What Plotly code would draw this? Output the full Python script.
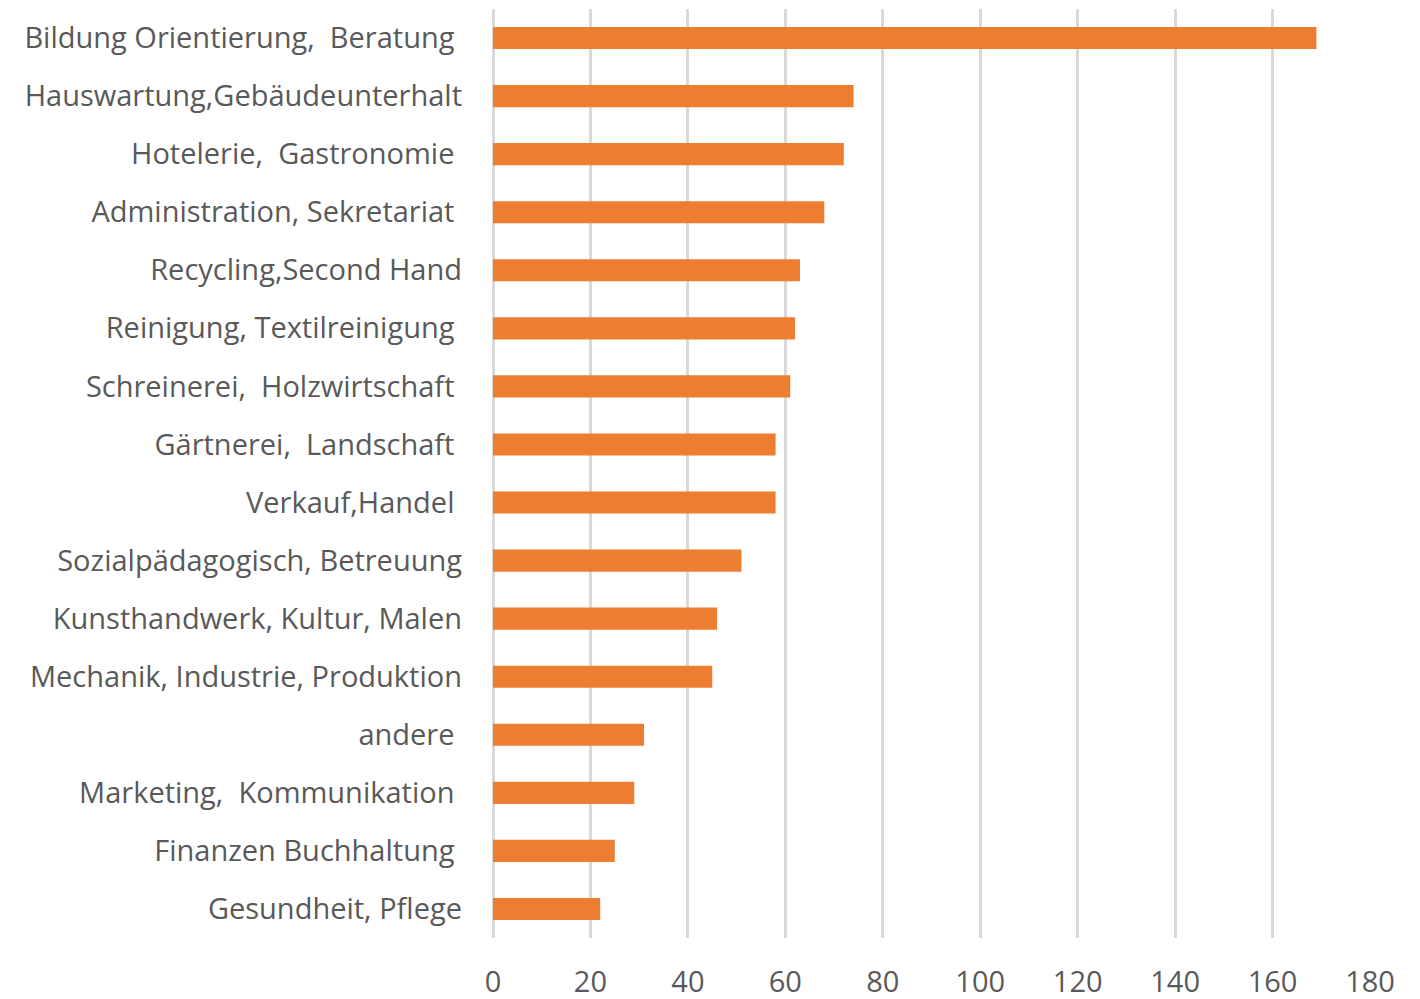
import plotly.graph_objects as go

categories = [
    "Bildung Orientierung,  Beratung\u00a0",
    "Hauswartung,Gebäudeunterhalt",
    "Hotelerie,  Gastronomie\u00a0",
    "Administration, Sekretariat\u00a0",
    "Recycling,Second Hand",
    "Reinigung, Textilreinigung\u00a0",
    "Schreinerei,  Holzwirtschaft\u00a0",
    "Gärtnerei,  Landschaft\u00a0",
    "Verkauf,Handel\u00a0",
    "Sozialpädagogisch, Betreuung",
    "Kunsthandwerk, Kultur, Malen",
    "Mechanik, Industrie, Produktion",
    "andere\u00a0",
    "Marketing,  Kommunikation\u00a0",
    "Finanzen Buchhaltung\u00a0",
    "Gesundheit, Pflege",
]
values = [169, 74, 72, 68, 63, 62, 61, 58, 58, 51, 46, 45, 31, 29, 25, 22]
x_ticks = [0, 20, 40, 60, 80, 100, 120, 140, 160, 180]

FONT = "Open Sans"
GRAY = "#595959"

fig = go.Figure(go.Bar(
    x=values, y=categories, orientation="h",
    marker=dict(color="#ED7D31", line=dict(width=0)),
))

fig.update_layout(
    width=1412, height=991,
    margin=dict(l=485, r=50, t=1, b=61),
    paper_bgcolor="white", plot_bgcolor="white",
    bargap=0.62,
    showlegend=False,
    font=dict(family=FONT, color=GRAY, size=29),
)
fig.update_xaxes(
    range=[0, 180], tickvals=x_ticks, ticktext=[str(v) for v in x_ticks],
    showgrid=True, gridcolor="#D9D9D9", gridwidth=3,
    zeroline=True, zerolinecolor="#D9D9D9", zerolinewidth=3,
    showline=False, ticks="", ticklabelstandoff=24,
    tickfont=dict(family=FONT, color=GRAY, size=29),
    automargin=False, fixedrange=True,
)
fig.update_yaxes(
    categoryorder="array", categoryarray=categories, autorange="reversed",
    showgrid=False, zeroline=False, showline=False, ticks="",
    ticklabelstandoff=30,
    tickfont=dict(family=FONT, color=GRAY, size=29),
    automargin=False, fixedrange=True,
)

fig.write_html("out.html", config={"displayModeBar": False})
